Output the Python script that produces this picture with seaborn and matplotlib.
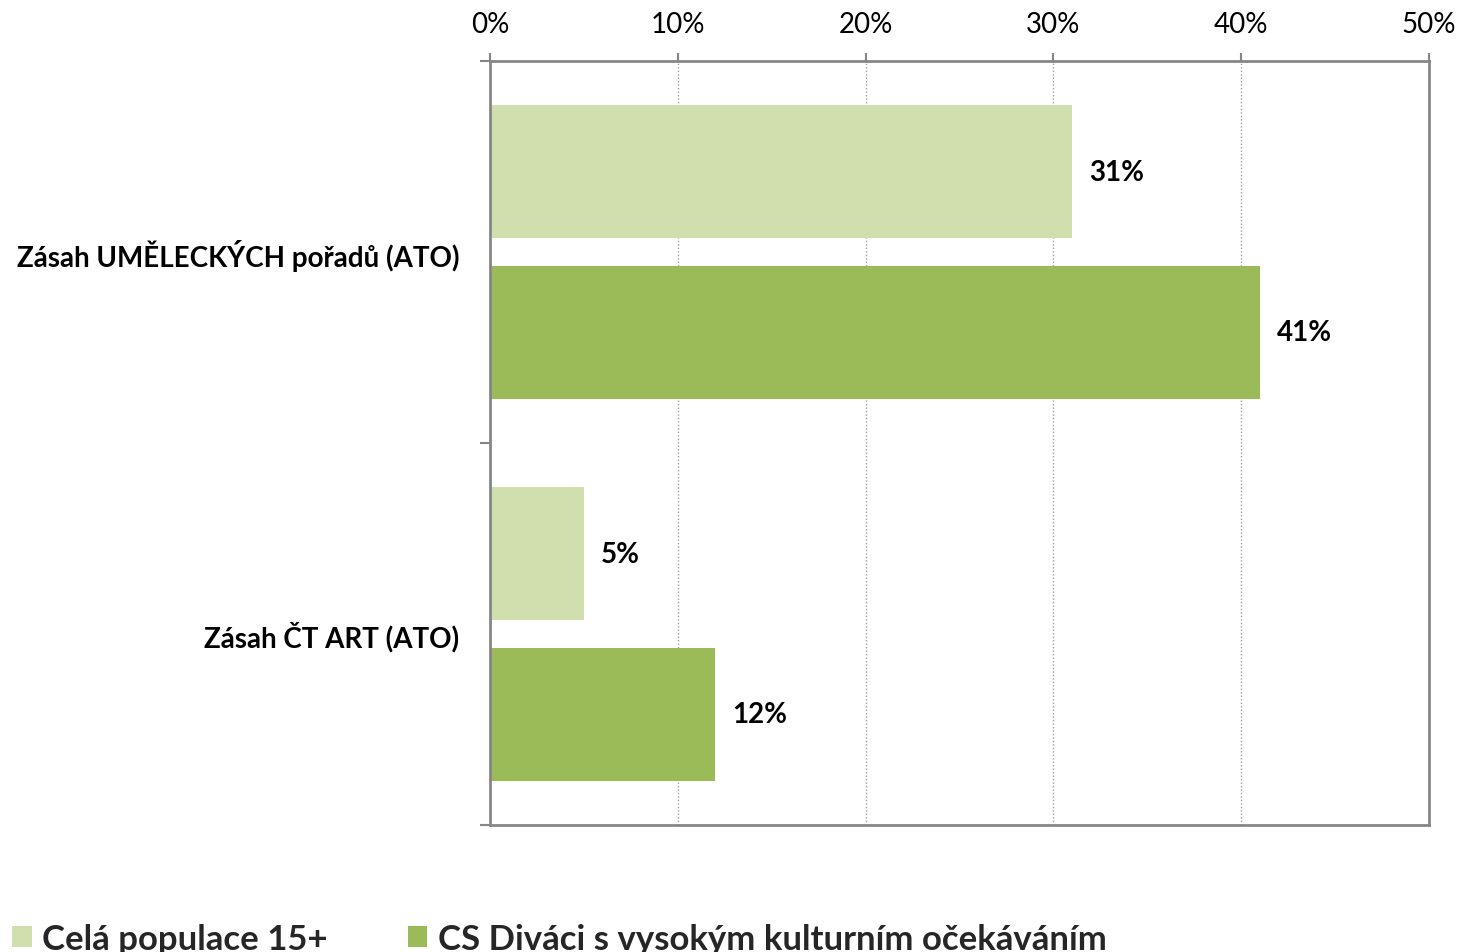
import matplotlib
matplotlib.use("Agg")
import matplotlib.pyplot as plt
import seaborn as sns
import pandas as pd
from matplotlib.ticker import FixedLocator, PercentFormatter

categories = ["Zásah UMĚLECKÝCH pořadů (ATO)", "Zásah ČT ART (ATO)"]
series_names = ["Celá populace 15+", "CS Diváci s vysokým kulturním očekáváním"]
values_all = [31, 5]
values_cs = [41, 12]
x_ticks = [0, 10, 20, 30, 40, 50]

colors = ["#D0DFAD", "#9BBB59"]
spine_color = "#868686"

rows = []
for c, v in zip(categories, values_all):
    rows.append({"cat": c, "series": series_names[0], "val": v})
for c, v in zip(categories, values_cs):
    rows.append({"cat": c, "series": series_names[1], "val": v})
df = pd.DataFrame(rows)

sns.set_theme(style="white")
plt.rcParams["font.family"] = ["Lato", "DejaVu Sans"]

fig = plt.figure(figsize=(14.58, 9.53), dpi=100)
ax = fig.add_axes([490 / 1458, 1 - 826 / 953, (1429 - 490) / 1458, (826 - 62) / 953])

sns.barplot(data=df, y="cat", x="val", hue="series", orient="h",
            palette=colors, width=0.84, gap=0.17, ax=ax, saturation=1,
            linewidth=0, legend=True)

ax.set_xlim(0, 50)
ax.set_ylim(1.5, -0.5)
ax.xaxis.set_major_locator(FixedLocator(x_ticks))
ax.xaxis.set_major_formatter(PercentFormatter(decimals=0))
ax.xaxis.tick_top()
ax.tick_params(axis="x", which="major", direction="out", length=6, width=1.5,
               color=spine_color, labelsize=20, pad=11, labelcolor="black")
ax.grid(axis="x", linestyle=(0, (1, 1.5)), color="#A0A0A0", linewidth=1)
ax.set_axisbelow(True)

ax.set_yticks([0, 1])
ax.set_yticklabels(categories, fontweight="bold", fontsize=20)
ax.yaxis.set_minor_locator(FixedLocator([-0.5, 0.5, 1.5]))
ax.tick_params(axis="y", which="major", length=0, pad=22, labelcolor="black")
ax.tick_params(axis="y", which="minor", direction="out", length=7, width=1.5,
               color=spine_color, left=True)
ax.set_xlabel("")
ax.set_ylabel("")

for s in ax.spines.values():
    s.set_visible(True)
    s.set_color(spine_color)
    s.set_linewidth(2)

for cont in ax.containers:
    for bar in cont:
        w = bar.get_width()
        ax.annotate(f"{w:.0f}%", xy=(w, bar.get_y() + bar.get_height() / 2),
                    xytext=(12, 0), textcoords="offset points",
                    va="center", ha="left", fontsize=20, fontweight="bold",
                    color="black")

handles, labels = ax.get_legend_handles_labels()
ax.get_legend().remove()
fig.legend(handles, labels, loc="lower left", bbox_to_anchor=(-5 / 1458, -0.021),
           ncol=2, frameon=False, prop={"weight": "bold", "size": 25},
           borderpad=0, handlelength=0.56, handleheight=0.56, handletextpad=0.3,
           columnspacing=2.3)

fig.savefig("out.png", dpi=100)
